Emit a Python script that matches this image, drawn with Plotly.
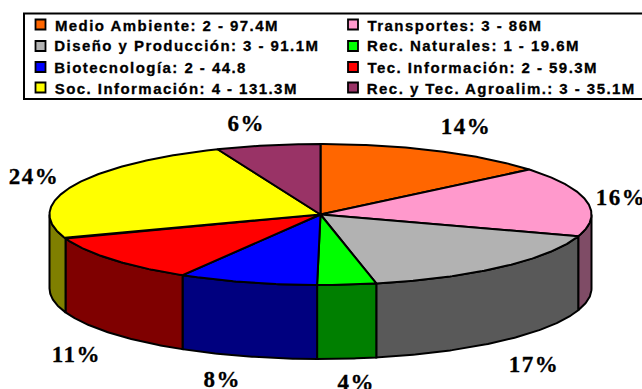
import numpy as np
import plotly.graph_objects as go

# --- data ---
legend_labels = ["Medio Ambiente: 2 - 97.4M", "Transportes: 3 - 86M",
                 "Diseño y Producción: 3 - 91.1M", "Rec. Naturales: 1 - 19.6M",
                 "Biotecnología: 2 - 44.8", "Tec. Información: 2 - 59.3M",
                 "Soc. Información: 4 - 131.3M", "Rec. y Tec. Agroalim.: 3 - 35.1M"]
slice_labels = ["14%", "16%", "17%", "4%", "8%", "11%", "24%", "6%"]
shares = [14.0, 16.0, 16.7, 3.5, 8.3, 11.0, 24.3, 6.2]
top_colors = ["#FF6600", "#FF99CC", "#B2B2B2", "#00FF00", "#0000FF", "#FF0000", "#FFFF00", "#993366"]
wall_colors = ["#7F3300", "#7F4C66", "#595959", "#007F00", "#00007F", "#7F0000", "#7F7F00", "#4C1933"]

# --- geometry of the pie ---
CX, CY, RX, RY, DEPTH = 320.5, 214.5, 271, 70.5, 74
label_pos = [(466, 126), (621, 197), (534, 364), (356, 382),
             (222, 379), (76, 354), (34, 176), (246, 123)]
swatch_x = [40.5, 353]
text_x = [52.5, 365]
row_y = [25, 45.5, 67.5, 88]
swatch_y = [24.5, 46, 67, 87.5]
LINE = 2
LEG_SPACING = 1.45  # px of letter spacing in the legend texts


def arc(a0, a1, dy=0):
    t = np.radians(np.linspace(a0, a1, max(3, int(abs(a1 - a0) * 2))))
    return CX + RX * np.sin(t), CY - RY * np.cos(t) + dy


fig = go.Figure()
edges = np.concatenate([[0], np.cumsum(shares)]) / sum(shares) * 360

# side walls (only the front half of the rim is visible)
for i, col in enumerate(wall_colors):
    a0, a1 = max(edges[i], 90), min(edges[i + 1], 270)
    if a1 <= a0:
        continue
    xt, yt = arc(a0, a1)
    xb, yb = arc(a1, a0, DEPTH)
    fig.add_trace(go.Scatter(x=np.r_[xt, xb, xt[0]], y=np.r_[yt, yb, yt[0]], mode="lines",
                             fill="toself", fillcolor=col, hoverinfo="skip",
                             line=dict(color="black", width=LINE), showlegend=False))

# top wedges
for i, col in enumerate(top_colors):
    xt, yt = arc(edges[i], edges[i + 1])
    fig.add_trace(go.Scatter(x=np.r_[CX, xt, CX], y=np.r_[CY, yt, CY], mode="lines",
                             fill="toself", fillcolor=col, hoverinfo="text", text=legend_labels[i],
                             line=dict(color="black", width=LINE), showlegend=False))

# legend swatches + text
annotations = []
for i, (lab, col) in enumerate(zip(legend_labels, top_colors)):
    c, r = i % 2, i // 2
    fig.add_trace(go.Scatter(x=[swatch_x[c]], y=[swatch_y[r]], mode="markers", hoverinfo="skip",
                             marker=dict(symbol="square", size=10, color=col,
                                         line=dict(color="black", width=1.8)),
                             showlegend=False))
    # spacing grows about the text's centre, so shift by half of what it adds
    annotations.append(dict(x=text_x[c] + len(lab) * LEG_SPACING / 2, y=row_y[r], text=lab,
                            xanchor="left", yanchor="middle",
                            xref="x", yref="y", showarrow=False,
                            font=dict(family="Liberation Sans", size=15, color="black", weight="bold")))

for lab, (x, y) in zip(slice_labels, label_pos):
    annotations.append(dict(x=x, y=y, text=lab, xanchor="center", yanchor="middle",
                            xref="x", yref="y", showarrow=False,
                            font=dict(family="Liberation Serif", size=23, color="black", weight="bold")))

fig.update_layout(
    width=642, height=389, margin=dict(l=0, r=0, t=0, b=0),
    paper_bgcolor="white", plot_bgcolor="white",
    xaxis=dict(range=[0, 642], visible=False, fixedrange=True),
    yaxis=dict(range=[389, 0], visible=False, fixedrange=True),
    shapes=[dict(type="rect", x0=24, x1=646, y0=13.5, y1=99, xref="x", yref="y",
                 line=dict(color="black", width=2), fillcolor="rgba(0,0,0,0)", layer="below")],
    annotations=annotations,
)

post = """
var s = document.createElement('style');
s.textContent = 'body{margin:0;overflow:hidden} .annotation-text{letter-spacing:%gpx;stroke:#000;stroke-width:.3px}';
document.head.appendChild(s);
""" % LEG_SPACING
fig.write_html("out.html", post_script=post, config={"displayModeBar": False})
